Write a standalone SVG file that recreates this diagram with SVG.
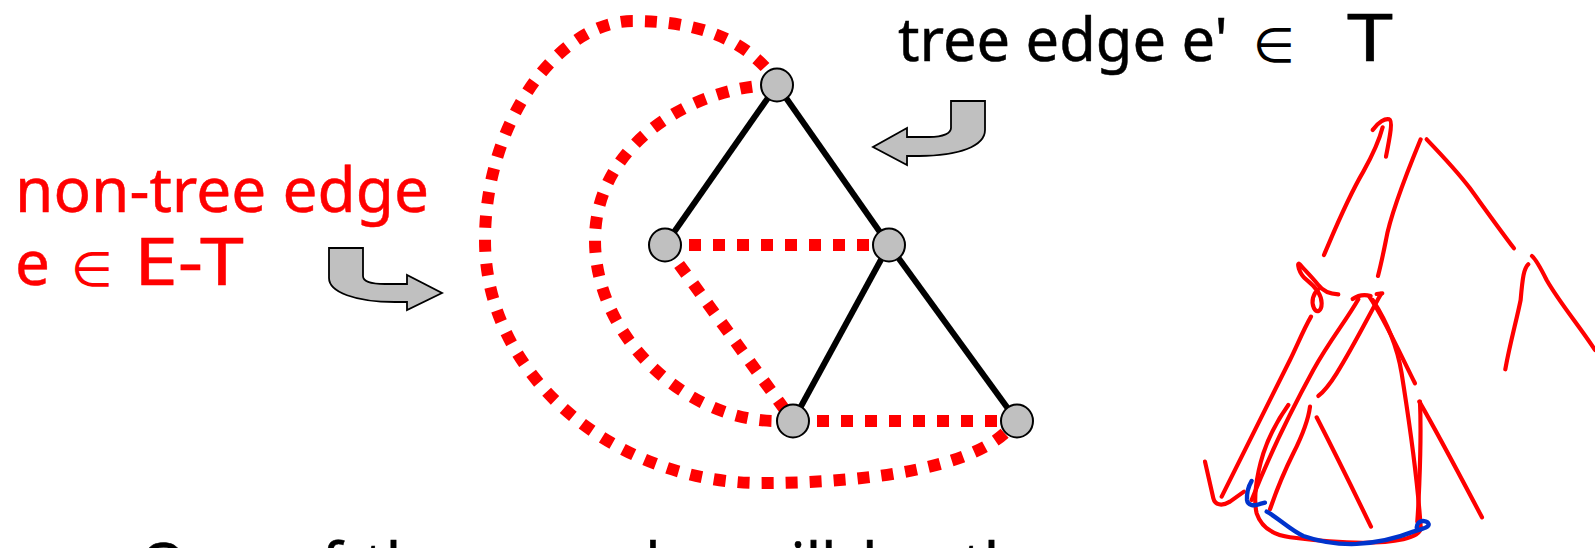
<svg xmlns="http://www.w3.org/2000/svg" width="1595" height="548" viewBox="0 0 1595 548">
<style>
.tree{stroke:#000;stroke-width:6;fill:none;stroke-linecap:butt}
.non{stroke:#ff0000;stroke-width:12;fill:none;stroke-dasharray:12 12}
.node{fill:#c0c0c0;stroke:#000;stroke-width:2}
.arrow{fill:#c0c0c0;stroke:#000;stroke-width:1.8;stroke-linejoin:miter}
.lbl{font-family:"Noto Sans","DejaVu Sans",sans-serif;stroke-width:0.5}
.sym{font-family:"DejaVu Sans",sans-serif;font-weight:normal;stroke-width:0}
.ink{fill:none;stroke:#ff0000;stroke-width:12.5;stroke-linecap:round;stroke-linejoin:round}
.blue{fill:none;stroke:#0033cc;stroke-width:13;stroke-linecap:round;stroke-linejoin:round}
</style>
<rect width="1595" height="548" fill="#fff"/>

<g id="connectors">
  <path class="non" d="M765,67 C735,35 690,21 633,21 C560,21 485,120 485,240 C485,380 620,483 760,483 C880,483 970,465 1005,433"/>
  <path class="non" d="M776,85 C700,85 595,140 595,240 C595,340 690,421 776,421"/>
  <line class="non" x1="665" y1="245" x2="889" y2="245"/>
  <line class="non" x1="665" y1="245" x2="793" y2="421"/>
  <line class="non" x1="793" y1="421" x2="1017" y2="421"/>
  <line class="tree" x1="777" y1="85" x2="665" y2="245"/>
  <line class="tree" x1="777" y1="85" x2="889" y2="245"/>
  <line class="tree" x1="889" y1="245" x2="793" y2="421"/>
  <line class="tree" x1="889" y1="245" x2="1017" y2="421"/>
</g>

<g id="node-top"><ellipse class="node" cx="777" cy="85" rx="16" ry="16.5"/></g>
<g id="node-left"><ellipse class="node" cx="665" cy="245" rx="16" ry="16.5"/></g>
<g id="node-mid"><ellipse class="node" cx="889" cy="245" rx="16" ry="16.5"/></g>
<g id="node-bottom-left"><ellipse class="node" cx="793" cy="421" rx="16" ry="16.5"/></g>
<g id="node-bottom-right"><ellipse class="node" cx="1017" cy="421" rx="16" ry="16.5"/></g>

<g id="arrow-left">
  <path class="arrow" d="M329,248 L363,248 L363,276 C363,281 370,284 385,284 L407,284 L407,275 L442,293 L407,310 L407,302 L395,302 C355,302 329,292 329,278 Z"/>
</g>
<g id="arrow-right">
  <path class="arrow" d="M985,101 L951,101 L951,128 C951,133 944,137 929,137 L907,137 L907,128 L873,147 L907,165 L907,156 L919,156 C959,156 985,146 985,130 Z"/>
</g>

<g id="label-nontree" class="lbl" fill="#ff0000" stroke="#ff0000">
  <text x="15" y="212" font-size="62" textLength="414" lengthAdjust="spacingAndGlyphs">non-tree edge</text>
  <text x="15" y="285" font-size="62">e</text>
  <text x="71" y="286" class="sym" font-size="48">∈</text>
  <text x="134" y="285" font-size="66" textLength="110" lengthAdjust="spacingAndGlyphs">E-T</text>
</g>

<g id="label-tree" class="lbl" fill="#000" stroke="#000">
  <text x="898" y="61" font-size="60" textLength="330" lengthAdjust="spacingAndGlyphs">tree edge e'</text>
  <text x="1253" y="62" class="sym" font-size="48">∈</text>
  <text x="1347" y="61" font-size="66" textLength="46" lengthAdjust="spacingAndGlyphs">T</text>
</g>

<g id="bottom-text" class="lbl" fill="#000" stroke="#000" font-size="60">
  <text y="586"><tspan x="140">One</tspan><tspan x="285">of</tspan><tspan x="364">these</tspan><tspan x="590">edges</tspan><tspan x="743">will</tspan><tspan x="862">be</tspan><tspan x="962">the</tspan></text>
</g>

<g id="handwriting" transform="translate(1150,100) scale(0.3333)">
  <path class="ink" d="M522,465 C550,400 590,300 640,215 C668,165 688,120 698,82"/>
  <path class="ink" d="M668,90 C685,65 705,55 718,58 C728,62 722,100 708,170"/>
  <path class="ink" d="M812,118 C770,220 720,350 708,420 C698,470 690,505 684,528"/>
  <path class="ink" d="M830,118 C880,170 930,225 960,265 C1000,320 1050,390 1092,445"/>
  <path class="ink" d="M1146,468 C1160,480 1175,510 1190,540 C1230,610 1290,680 1335,750"/>
  <path class="ink" d="M1135,493 C1122,505 1118,530 1112,600 C1100,660 1080,730 1066,808"/>
  <path class="ink" d="M565,583 C540,582 520,575 505,555 C485,530 455,500 448,492 C440,485 445,520 470,540 C495,560 515,585 515,610 C515,635 500,640 492,625 C482,605 490,580 505,568"/>
  <path class="ink" d="M608,597 C625,585 645,583 662,588"/>
  <path class="ink" d="M680,582 L697,580"/>
  <path class="ink" d="M625,598 C590,660 540,720 490,810 C430,920 360,1060 305,1200"/>
  <path class="ink" d="M658,590 C700,650 750,760 795,850"/>
  <path class="ink" d="M693,582 C660,640 610,740 560,820 C535,860 515,880 505,888"/>
  <path class="ink" d="M668,600 C720,680 745,760 755,820 C775,950 800,1100 812,1280 C815,1300 790,1310 760,1318 C680,1335 560,1330 420,1312 C370,1305 335,1285 320,1240 C310,1200 318,1130 340,1060 C360,1000 390,950 415,915"/>
  <path class="ink" d="M483,650 C460,690 440,740 420,780 C360,900 290,1040 215,1190"/>
  <path class="ink" d="M165,1085 L190,1195 C195,1215 215,1220 240,1205 L282,1175"/>
  <path class="ink" d="M480,920 C475,960 455,1010 430,1060 C400,1120 380,1170 360,1228"/>
  <path class="ink" d="M500,952 C540,1030 600,1150 663,1280"/>
  <path class="ink" d="M810,905 C812,950 812,1050 808,1150 C806,1200 804,1240 802,1265"/>
  <path class="ink" d="M808,905 C840,960 900,1070 996,1252"/>
  <path class="blue" d="M305,1143 C295,1160 290,1180 291,1200 C293,1215 310,1220 330,1212 L345,1208"/>
  <path class="blue" d="M350,1235 C380,1250 420,1290 460,1308 C500,1322 560,1334 620,1332 C680,1328 740,1315 790,1295 C815,1287 838,1282 836,1272 C832,1262 815,1260 806,1268 C800,1275 800,1285 802,1290"/>
</g>
</svg>
